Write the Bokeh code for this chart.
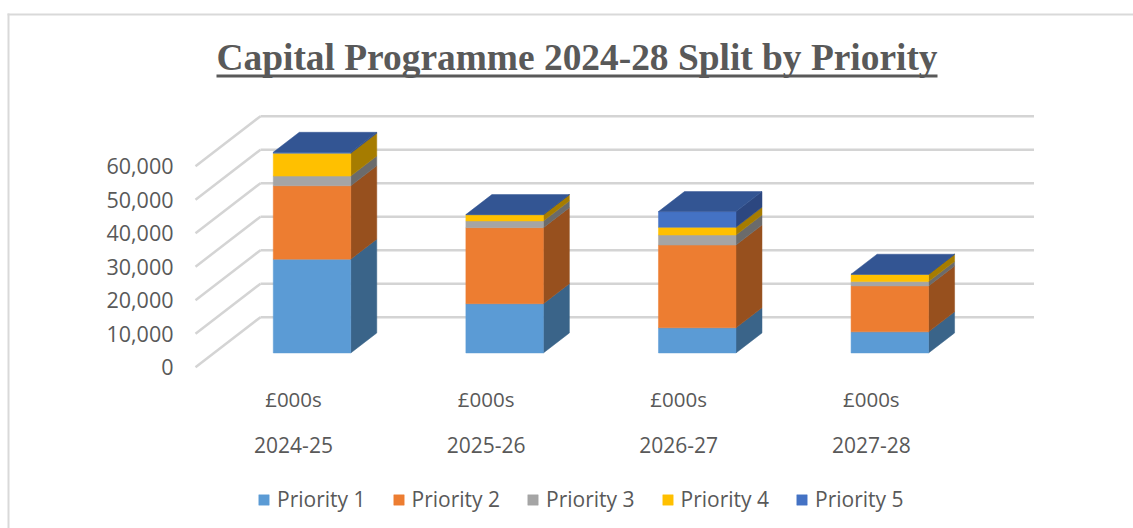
from bokeh.plotting import figure
from bokeh.models import (Range1d, LinearAxis, FixedTicker, Legend, LegendItem, Label,
                          BoxAnnotation, NumeralTickFormatter)
from bokeh.embed import file_html
from bokeh.resources import INLINE

# ---- data ----
years = ["2024-25", "2025-26", "2026-27", "2027-28"]
units = ["£000s", "£000s", "£000s", "£000s"]
series_names = ["Priority 1", "Priority 2", "Priority 3", "Priority 4", "Priority 5"]
priority_1 = [28000, 14700, 7500, 6300]
priority_2 = [21900, 22700, 24700, 13700]
priority_3 = [2900, 2000, 3000, 1300]
priority_4 = [6800, 1900, 2300, 2200]
priority_5 = [300, 0, 4700, 0]
value_ticks = [0, 10000, 20000, 30000, 40000, 50000, 60000]
title_text = "Capital Programme 2024-28 Split by Priority"

front_colors = ["#5B9BD5", "#ED7D31", "#A5A5A5", "#FFC000", "#4472C4"]
side_colors = ["#3A6489", "#97501E", "#6B6B6B", "#A67C00", "#2C4780"]
top_color = "#335593"
text_color = "#595959"
grid_color = "#D4D4D4"

# ---- layout constants (page pixels; the plot frame fills the figure) ----
W, H = 1133, 528
ZERO_PX = 366.7
PX_PER_UNIT_Y = 33.5 / 10000
PX_PER_CAT = 192.6
CAT0_PX = 293.0

def x_of(px):
    return (px - CAT0_PX) / PX_PER_CAT
def y_of(px):
    return (ZERO_PX - px) / PX_PER_UNIT_Y

DX = 65 / PX_PER_CAT           # full floor depth, category units
DY = 50 / PX_PER_UNIT_Y        # full floor depth, value units
BAR_W = 77.5 / PX_PER_CAT
D0, D1 = 0.285, 0.685          # bar's depth extent in the floor

p = figure(width=W, height=H, output_backend="svg", toolbar_location=None,
           x_range=Range1d(x_of(0), x_of(W)),
           y_range=Range1d(y_of(H), y_of(0)),
           x_axis_type=None, y_axis_type=None,
           min_border_left=0, min_border_right=0, min_border_top=0, min_border_bottom=0)
p.outline_line_color = None
p.background_fill_color = "white"
p.border_fill_color = "white"
p.grid.visible = False

# walls
x_left, x_right = x_of(195), x_of(1033.5)
p.segment([x_left] * len(value_ticks), value_ticks,
          [x_left + DX] * len(value_ticks), [v + DY for v in value_ticks],
          line_color=grid_color, line_width=2.5)
p.segment([x_left + DX] * len(value_ticks), [v + DY for v in value_ticks],
          [x_right] * len(value_ticks), [v + DY for v in value_ticks],
          line_color=grid_color, line_width=2.5)

# stacked pseudo-3D bars
series = [priority_1, priority_2, priority_3, priority_4, priority_5]
n = len(years)
base = [0.0] * n
front_renderers = []
tops_xs, tops_ys = [], []
for s, vals in enumerate(series):
    fx, fy, sx, sy = [], [], [], []
    for i in range(n):
        l = i - BAR_W / 2 + D0 * DX
        r = i + BAR_W / 2 + D0 * DX
        b = base[i] + D0 * DY
        t = b + vals[i]
        ex = (D1 - D0) * DX
        ey = (D1 - D0) * DY
        fx.append([l, r, r, l]); fy.append([b, b, t, t])
        sx.append([r, r + ex, r + ex, r]); sy.append([b, b + ey, t + ey, t])
        if s == len(series) - 1:
            tops_xs.append([l, r, r + ex, l + ex]); tops_ys.append([t, t, t + ey, t + ey])
        base[i] += vals[i]
    p.patches(sx, sy, fill_color=side_colors[s], line_color=side_colors[s], line_width=0.5)
    front_renderers.append(p.patches(fx, fy, fill_color=front_colors[s],
                                     line_color=front_colors[s], line_width=0.5))
p.patches(tops_xs, tops_ys, fill_color=top_color, line_color=top_color, line_width=0.5)

# axes
FONT = "Open Sans"
yaxis = LinearAxis(ticker=FixedTicker(ticks=value_ticks), fixed_location=x_of(190),
                   formatter=NumeralTickFormatter(format="0,0"),
                   axis_line_color=None, major_tick_line_color=None, minor_tick_line_color=None,
                   major_label_text_color=text_color, major_label_text_font=FONT,
                   major_label_text_font_size="21.5px", major_label_standoff=11)
p.add_layout(yaxis, "left")

def cat_axis(labels, standoff, size):
    ax = LinearAxis(ticker=FixedTicker(ticks=list(range(n))), fixed_location=y_of(370),
                    major_label_overrides={i: t for i, t in enumerate(labels)},
                    axis_line_color=None, major_tick_line_color=None, minor_tick_line_color=None,
                    major_label_text_color=text_color, major_label_text_font=FONT,
                    major_label_text_font_size=size, major_label_standoff=standoff)
    p.add_layout(ax, "below")
cat_axis(units, 8, "20.5px")
cat_axis(years, 60, "21px")

legend = Legend(items=[LegendItem(label=name, renderers=[r])
                       for name, r in zip(series_names, front_renderers)],
                orientation="horizontal", location=(257, 15),
                glyph_width=13, glyph_height=13, label_standoff=7, spacing=26,
                padding=0, margin=0, border_line_color=None, background_fill_alpha=0,
                label_text_font=FONT, label_text_font_size="21px",
                label_text_color=text_color)
p.add_layout(legend, "center")

# title and underline
p.add_layout(Label(x=216, y=H - 77, x_units="screen", y_units="screen", text=title_text,
                   text_font="Liberation Serif", text_font_style="bold",
                   text_font_size="37.4px", text_color=text_color))
p.add_layout(BoxAnnotation(left=216, right=937, top=H - 74, bottom=H - 77,
                           left_units="screen", right_units="screen", top_units="screen", bottom_units="screen",
                           fill_color=text_color, fill_alpha=1, line_color=None))

# frame of the chart area
border = "#D9D9D9"
for l, r, t, b in [(7, W, 13, 15), (7, 9, 13, H)]:
    p.add_layout(BoxAnnotation(left=l, right=r, top=H - t, bottom=H - b,
                               left_units="screen", right_units="screen", top_units="screen", bottom_units="screen",
                               fill_color=border, fill_alpha=1, line_color=None))

open("out.html", "w").write(file_html(p, INLINE))
